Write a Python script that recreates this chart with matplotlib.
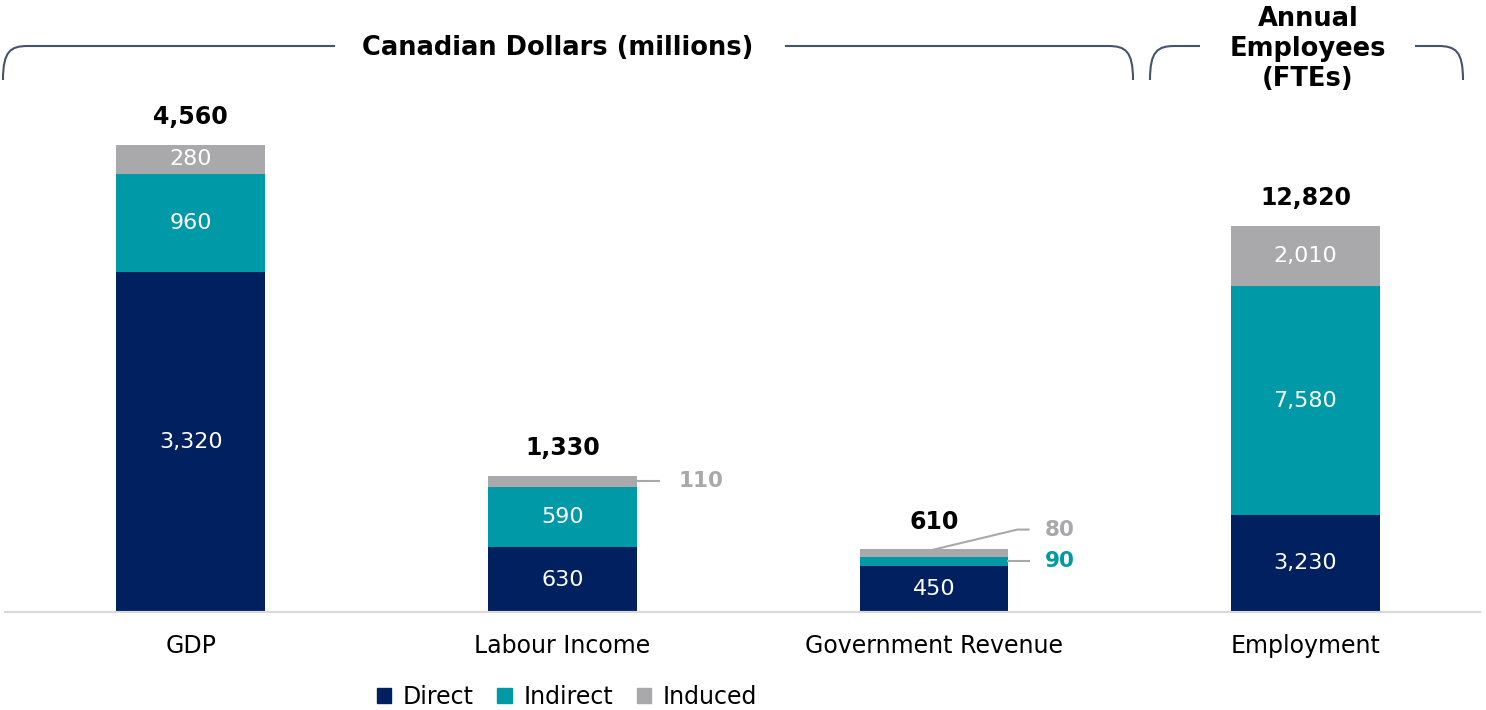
import matplotlib.pyplot as plt
from matplotlib.patches import Patch, PathPatch
from matplotlib.path import Path

plt.rcParams['font.family'] = ['DejaVu Sans']

categories = ['GDP', 'Labour Income', 'Government Revenue', 'Employment']
direct = [3320, 630, 450, 3230]
indirect = [960, 590, 90, 7580]
induced = [280, 110, 80, 2010]
totals = [4560, 1330, 610, 12820]

C_DIRECT = '#002060'
C_INDIRECT = '#0099A8'
C_INDUCED = '#A9A9AB'
C_BRACKET = '#44546A'

fig = plt.figure(figsize=(14.86, 7.10), dpi=100)
ax = fig.add_axes([5 / 1486, 98 / 710, 1475 / 1486, 512 / 710])
ax2 = ax.twinx()

ax.set_xlim(-0.5, 3.47)
ax.set_ylim(0, 5000)
ax2.set_ylim(0, 17000)

w = 0.4
for i, cat in enumerate(categories):
    a = ax if i < 3 else ax2
    segs = [(direct[i], C_DIRECT), (indirect[i], C_INDIRECT), (induced[i], C_INDUCED)]
    bottom = 0
    for j, (v, c) in enumerate(segs):
        a.bar(i, v, w, bottom=bottom, color=c, edgecolor='none')
        big = v / (totals[i]) > 0.15 or (i == 0) or (i == 3)
        if big:
            a.text(i, bottom + v / 2, f"{v:,}", ha='center', va='center',
                   color='white', fontsize=16)
        bottom += v
    a.annotate(f"{totals[i]:,}", xy=(i, totals[i]), xytext=(0, 15),
               textcoords='offset points', ha='center', va='baseline',
               fontsize=17, fontweight='bold', color='black')

# callouts for small segments
# Labour Income induced
y_ind = direct[1] + indirect[1] + induced[1] / 2
ax.plot([1 + w / 2, 1.26], [y_ind, y_ind], color=C_INDUCED, lw=1.5)
ax.text(1.372, y_ind, f"{induced[1]:,}", ha='center', va='center',
        fontsize=15.5, fontweight='bold', color=C_INDUCED)
# Government revenue induced
ax.plot([2, 2.225, 2.255], [totals[2], totals[2] + 195, totals[2] + 195],
        color=C_INDUCED, lw=1.5)
ax.text(2.339, totals[2] + 195, f"{induced[2]:,}", ha='center', va='center',
        fontsize=15.5, fontweight='bold', color=C_INDUCED)
# Government revenue indirect
y_i = direct[2] + indirect[2] / 2
ax.plot([2 + w / 2, 2.255], [y_i, y_i], color=C_INDUCED, lw=1.5)
ax.text(2.339, y_i, f"{indirect[2]:,}", ha='center', va='center',
        fontsize=15.5, fontweight='bold', color=C_INDIRECT)

for a in (ax, ax2):
    for s in ['top', 'left', 'right']:
        a.spines[s].set_visible(False)
    a.spines['bottom'].set_color('#D9D9D9')
    a.spines['bottom'].set_linewidth(1.5)
    a.set_yticks([])
ax.set_xticks(range(len(categories)))
ax.set_xticklabels(categories, fontsize=17)
ax.tick_params(axis='x', length=0, pad=16)

# brackets on top
ov = fig.add_axes([0, 0, 1, 1], facecolor='none')
ov.set_xlim(0, 1486)
ov.set_ylim(710, 0)
ov.axis('off')


def corner_line(x0, x1, y_low, y_top, r):
    verts = [(x0, y_low), (x0, y_top + r * 0.2), (x0 + r * 0.3, y_top), (x0 + r, y_top),
             (x1 - r, y_top), (x1 - r * 0.3, y_top), (x1, y_top + r * 0.2), (x1, y_low)]
    codes = [Path.MOVETO, Path.CURVE4, Path.CURVE4, Path.CURVE4,
             Path.LINETO, Path.CURVE4, Path.CURVE4, Path.CURVE4]
    return Path(verts, codes)


def bracket(x0, x1, gap0, gap1, label_x, label, label_y, y_top=46, y_low=80):
    p = corner_line(x0, x1, y_low, y_top, 25)
    ov.add_patch(PathPatch(p, fill=False, edgecolor=C_BRACKET, lw=1.5))
    ov.add_patch(plt.Rectangle((gap0, y_top - 5), gap1 - gap0, 10,
                               facecolor='white', edgecolor='none', zorder=2))
    ov.text(label_x, label_y, label, ha='center', va='center', fontsize=18.5,
            fontweight='bold', zorder=3, linespacing=1.2)


bracket(3, 1133, 335, 785, 558, 'Canadian Dollars (millions)', 48)
bracket(1150, 1463, 1200, 1415, 1308, 'Annual\nEmployees\n(FTEs)', 49)

handles = [Patch(color=C_DIRECT, label='Direct'),
           Patch(color=C_INDIRECT, label='Indirect'),
           Patch(color=C_INDUCED, label='Induced')]
fig.legend(handles=handles, loc='center', bbox_to_anchor=(567 / 1486, 1 - 697 / 710),
           ncol=3, frameon=False, fontsize=17, handlelength=0.6, handleheight=0.6,
           handletextpad=0.5, columnspacing=1.0)

fig.savefig('out.png', dpi=100)
